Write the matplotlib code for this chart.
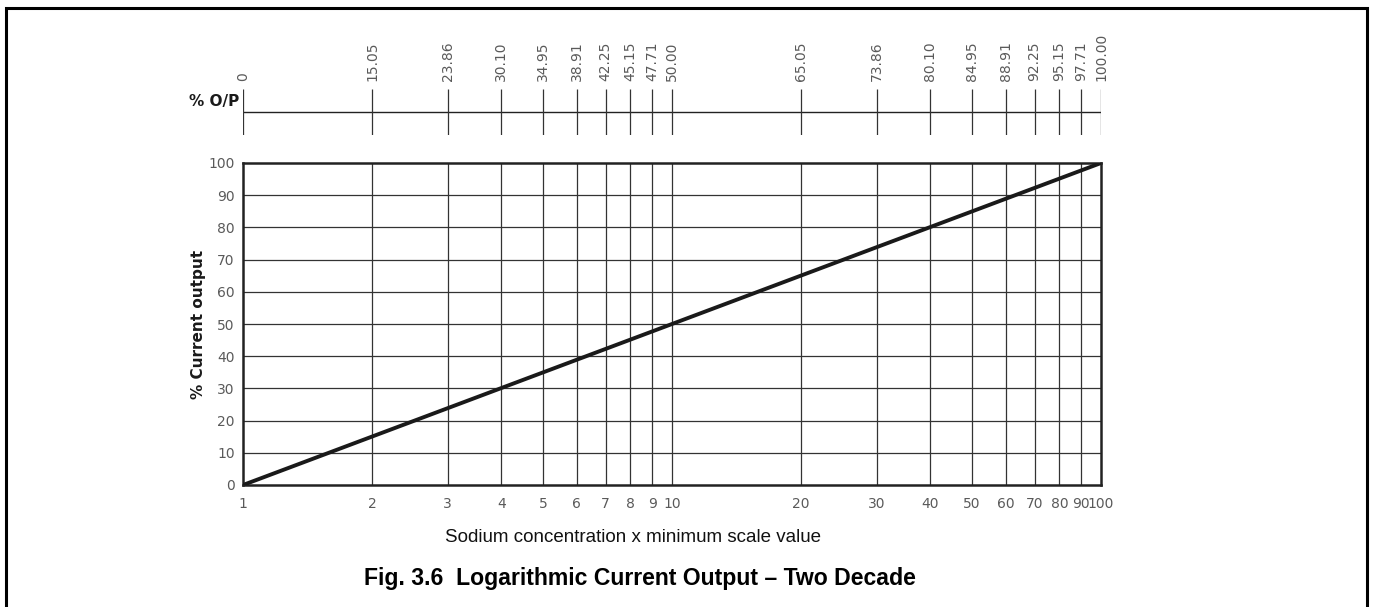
import matplotlib.pyplot as plt
from matplotlib.patches import Rectangle

# sodium concentration (x minimum scale value), log spaced ticks
conc_ticks = [1, 2, 3, 4, 5, 6, 7, 8, 9, 10, 20, 30, 40, 50, 60, 70, 80, 90, 100]
conc_labels = ['1', '2', '3', '4', '5', '6', '7', '8', '9', '10',
               '20', '30', '40', '50', '60', '70', '80', '90', '100']
# % output scale shown above the chart
op_labels = ['0', '15.05', '23.86', '30.10', '34.95', '38.91', '42.25', '45.15', '47.71', '50.00',
             '65.05', '73.86', '80.10', '84.95', '88.91', '92.25', '95.15', '97.71', '100.00']
pct_ticks = [0, 10, 20, 30, 40, 50, 60, 70, 80, 90, 100]

# the response line
line_x = [1, 100]
line_y = [0, 100]

W, H = 1374, 607
fig = plt.figure(figsize=(W / 100, H / 100), dpi=100)

grey = '#5a5a5a'
gridc = '#333333'

# outer frame
fig.patches.append(Rectangle((6 / W, -0.01), (1367 - 6) / W, 1 - 8 / H + 0.01,
                             transform=fig.transFigure, fill=False, lw=2.2,
                             edgecolor='black'))

def px(x0, y0, x1, y1):
    return [x0 / W, 1 - y1 / H, (x1 - x0) / W, (y1 - y0) / H]

ax = fig.add_axes(px(243, 163, 1101, 485))
ax.set_xscale('log')
ax.set_xlim(1, 100)
ax.set_ylim(0, 100)
ax.set_xticks(conc_ticks)
ax.set_xticklabels(conc_labels)
ax.xaxis.set_minor_locator(plt.NullLocator())
ax.set_yticks(pct_ticks)
ax.tick_params(axis='both', length=0, labelsize=10, labelcolor=grey)
ax.tick_params(axis='x', pad=9)
ax.tick_params(axis='y', pad=6)
for v in conc_ticks[1:-1]:
    ax.axvline(v, color=gridc, lw=0.9, zorder=1)
for v in pct_ticks[1:-1]:
    ax.axhline(v, color=gridc, lw=0.9, zorder=1)
for s in ax.spines.values():
    s.set_linewidth(1.8)
    s.set_color('#222222')
ax.plot(line_x, line_y, color='#1a1a1a', lw=2.8, zorder=3, solid_capstyle='butt')

ax.set_ylabel('% Current output', fontsize=11, fontweight='bold', color='#1a1a1a',
              labelpad=2)

fig.text(633 / W, 1 - 538 / H, 'Sodium concentration x minimum scale value',
         ha='center', va='center', fontsize=13.5, color='#111111',
         family=['Liberation Sans', 'DejaVu Sans'])

# % O/P scale above the plot
ax2 = fig.add_axes(px(243, 89, 1101, 135))
ax2.set_xscale('log')
ax2.set_xlim(1, 100)
ax2.set_ylim(0, 1)
ax2.axis('off')
ax2.axhline(0.5, color='#222222', lw=1.0)
ax2.vlines(conc_ticks, 0, 1, color=gridc, lw=0.9)
for v, lab in zip(conc_ticks, op_labels):
    ax2.text(v, 1.17, lab, rotation=90, ha='center', va='bottom',
             fontsize=10, color=grey, transform=ax2.get_xaxis_transform())
ax2.text(-0.004, 0.56, '% O/P', ha='right', va='bottom', fontsize=11,
         fontweight='bold', color='#1a1a1a', transform=ax2.transAxes)

fig.text(640 / W, 1 - 578 / H, 'Fig. 3.6  Logarithmic Current Output \u2013 Two Decade',
         ha='center', va='center', fontsize=16.6, fontweight='bold',
         family=['Liberation Sans', 'DejaVu Sans'])

fig.savefig('out.png', dpi=100)
